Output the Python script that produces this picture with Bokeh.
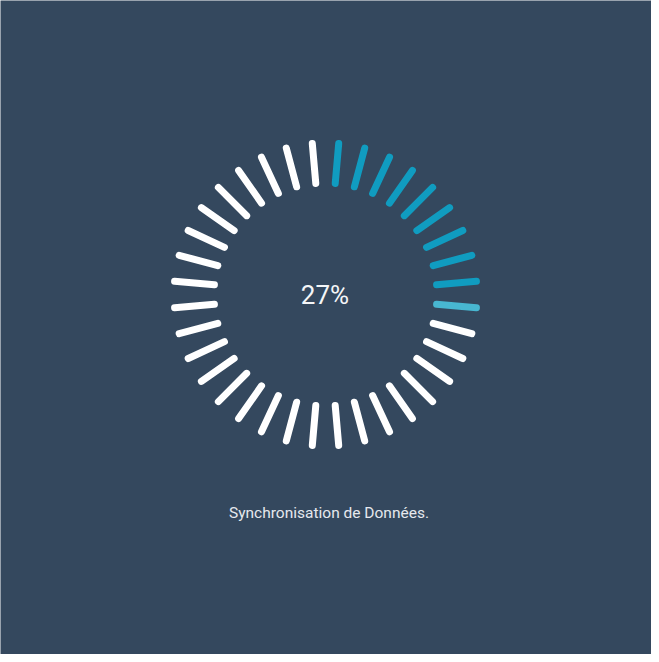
import math
from bokeh.plotting import figure
from bokeh.models import Range1d, ColumnDataSource
from bokeh.core.properties import value
from bokeh.embed import file_html
from bokeh.resources import INLINE

# ---- data ----
percent = 27
n_ticks = 36
label = "27%"
caption = "Synchronisation de Données."
done_color = "#109cc0"
partial_color = "#48b7d1"
todo_color = "#ffffff"
bg = "#34485e"

W, H = 651, 654
p = figure(width=W, height=H, output_backend="svg", toolbar_location=None,
           x_range=Range1d(8, 8 + W), y_range=Range1d(8 + H, 8),
           min_border=0, background_fill_color=bg, border_fill_color=bg)
p.axis.visible = False
p.grid.visible = False
p.outline_line_color = None

cx, cy = 333, 302
r_in, r_out = 111.5, 151.5
filled = percent / 100 * n_ticks
x0, y0, x1, y1, cols = [], [], [], [], []
for i in range(n_ticks):
    a = math.radians(5 + 10 * i)
    s, c = math.sin(a), math.cos(a)
    x0.append(cx + r_in * s); y0.append(cy - r_in * c)
    x1.append(cx + r_out * s); y1.append(cy - r_out * c)
    if i + 1 <= filled:
        cols.append(done_color)
    elif i < filled:
        cols.append(partial_color)
    else:
        cols.append(todo_color)
src = ColumnDataSource(dict(x0=x0, y0=y0, x1=x1, y1=y1, c=cols))
p.segment("x0", "y0", "x1", "y1", source=src, line_color="c", line_width=7,
          line_cap="round")

p.text(x=[332.5], y=[302], text=[label], text_font=value("Roboto"),
       text_font_size="26px", text_color="#f4f6f8", text_align="center",
       text_baseline="middle")
p.text(x=[336.5], y=[520], text=[caption], text_font=value("Roboto"),
       text_font_size="15.5px", text_color="#e6e9ee", text_align="center",
       text_baseline="middle")

open("out.html", "w").write(file_html(p, INLINE))
